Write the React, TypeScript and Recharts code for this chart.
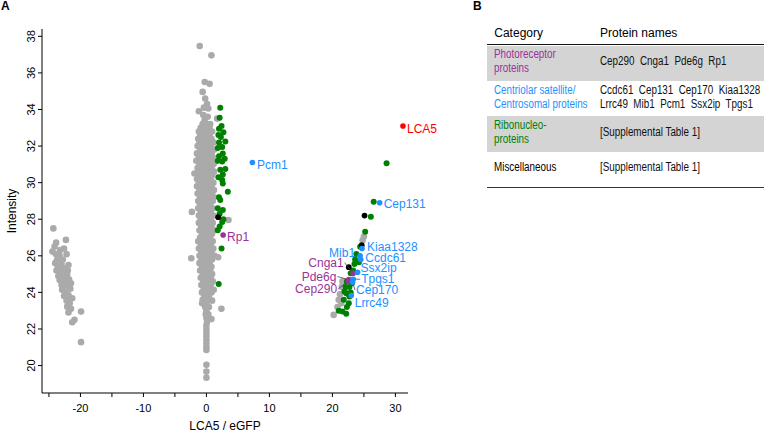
import React from 'react';
import { ScatterChart, Scatter, XAxis, YAxis } from 'recharts';

// background proteins (grey) as [LCA5/eGFP, intensity]
const greyCentral: [number, number][] = [
  [-1.06, 37.47], [0.8, 36.96], [-0.27, 35.5], [0.5, 35.4], [-0.6, 34.96], [-0.2, 34.6], [0.1, 34.3],
  [-0.4, 34.1], [0.3, 34.05], [-1.2, 33.9], [-0.5, 33.7], [0.2, 33.6], [1.7, 33.5], [-0.3, 33.4],
  [-0.6, 33.2], [0.1, 33.2], [0.6, 33.2], [-0.9, 33.0], [-0.2, 33.0], [0.5, 33.0],
  [-1.2, 32.8], [-0.5, 32.8], [0.2, 32.8], [0.9, 32.8], [-1.0, 32.6], [-0.3, 32.6], [0.5, 32.6],
  [-1.3, 32.4], [-0.6, 32.4], [0.1, 32.4], [0.8, 32.4], [-1.1, 32.2], [-0.4, 32.2], [0.4, 32.2], [1.1, 32.2],
  [-1.4, 32.0], [-0.7, 32.0], [0.0, 32.0], [0.7, 32.0], [-1.0, 31.8], [-0.3, 31.8], [0.5, 31.8], [1.2, 31.8],
  [-1.5, 31.6], [-0.8, 31.6], [0.0, 31.6], [0.8, 31.6], [-1.2, 31.4], [-0.4, 31.4], [0.3, 31.4], [1.0, 31.4],
  [-1.6, 31.2], [-0.8, 31.2], [-0.1, 31.2], [0.6, 31.2], [1.3, 31.1], [-1.1, 31.0], [-0.4, 31.0], [0.4, 31.0], [1.1, 31.0],
  [-1.4, 30.8], [-0.7, 30.8], [0.1, 30.8], [0.8, 30.8], [-1.9, 30.5], [-1.0, 30.6], [-0.3, 30.6], [0.5, 30.6], [1.2, 30.6],
  [-1.3, 30.4], [-0.6, 30.4], [0.2, 30.4], [0.9, 30.4], [-1.5, 30.2], [-0.8, 30.2], [0.0, 30.2], [0.7, 30.2],
  [-1.2, 30.0], [-0.4, 30.0], [0.4, 30.0], [1.1, 30.0], [-1.5, 29.8], [-0.7, 29.8], [0.1, 29.8], [0.8, 29.8],
  [-1.1, 29.6], [-0.3, 29.6], [0.5, 29.6], [1.2, 29.6], [-1.4, 29.4], [-0.6, 29.4], [0.2, 29.4], [0.9, 29.4],
  [-1.0, 29.2], [-0.3, 29.2], [0.5, 29.2], [1.2, 29.2], [-1.3, 29.0], [-0.5, 29.0], [0.3, 29.0], [1.0, 29.0],
  [-1.0, 28.8], [-0.2, 28.8], [0.6, 28.8], [-1.3, 28.6], [-0.5, 28.6], [0.3, 28.6], [1.0, 28.6],
  [-2.3, 28.4], [-0.9, 28.4], [-0.1, 28.4], [0.7, 28.4], [-1.2, 28.2], [-0.4, 28.2], [0.4, 28.2], [1.1, 28.2],
  [-0.9, 28.0], [-0.1, 28.0], [0.7, 28.0], [3.5, 27.96], [-1.2, 27.8], [-0.4, 27.8], [0.4, 27.8], [1.0, 27.8],
  [-0.8, 27.6], [0.0, 27.6], [0.8, 27.6], [-1.1, 27.4], [-0.3, 27.4], [0.5, 27.4], [1.2, 27.4],
  [-0.7, 27.2], [0.1, 27.2], [0.9, 27.2], [-1.0, 27.0], [-0.2, 27.0], [0.6, 27.0],
  [-1.3, 26.8], [-0.5, 26.8], [0.3, 26.8], [1.0, 26.8], [-0.9, 26.6], [-0.1, 26.6], [0.7, 26.6],
  [-1.2, 26.4], [-0.4, 26.4], [0.4, 26.4], [1.1, 26.4], [-0.8, 26.2], [0.0, 26.2], [0.8, 26.2],
  [-1.1, 26.0], [-0.3, 26.0], [0.5, 26.0], [1.3, 26.0], [1.86, 25.92], [-2.4, 25.87],
  [-0.8, 25.8], [0.1, 25.8], [0.9, 25.8], [-1.1, 25.6], [-0.3, 25.6], [0.5, 25.6],
  [-0.7, 25.4], [0.1, 25.4], [0.8, 25.4], [-1.0, 25.2], [-0.2, 25.2], [0.6, 25.2],
  [-0.6, 25.0], [0.2, 25.0], [0.9, 25.0], [-0.9, 24.8], [-0.1, 24.8], [0.7, 24.8],
  [-0.5, 24.6], [0.3, 24.6], [1.0, 24.6], [-0.8, 24.4], [0.0, 24.4], [0.7, 24.4],
  [-0.4, 24.2], [0.4, 24.2], [1.16, 24.14], [-0.7, 24.0], [0.1, 24.0], [0.8, 24.0],
  [-0.3, 23.8], [0.4, 23.8], [-0.6, 23.6], [0.2, 23.6], [0.9, 23.55], [-0.68, 23.41], [0.0, 23.4],
  [-0.2, 23.2], [0.4, 23.2], [2.38, 23.1], [0.0, 23.0], [-0.1, 22.8], [0.3, 22.8], [0.0, 22.6], [0.8, 22.54],
  [0.1, 22.4], [0.0, 22.2], [0.0, 22.0], [0.0, 21.8], [0.0, 21.6], [0.0, 21.4], [0.0, 21.2], [0.0, 21.0],
  [0.0, 20.85], [0.0, 20.04], [0.0, 19.67], [0.0, 19.34],
];

const greyLeft: [number, number][] = [
  [-24.3, 27.5], [-23.86, 26.72], [-22.3, 26.87], [-24.1, 26.5], [-22.6, 26.4], [-24.45, 26.23], [-23.2, 26.32],
  [-22.2, 26.09], [-23.9, 26.1], [-23.3, 26.0], [-23.5, 25.95], [-23.7, 25.78], [-22.8, 25.8], [-24.0, 25.6],
  [-23.0, 25.55], [-21.9, 25.5], [-23.6, 25.4], [-22.5, 25.3], [-23.8, 25.2], [-23.2, 25.2], [-22.0, 25.2],
  [-22.8, 25.0], [-22.1, 24.96], [-23.5, 24.9], [-22.7, 24.8], [-21.8, 24.7], [-23.3, 24.68], [-22.5, 24.6],
  [-21.5, 24.5], [-23.0, 24.4], [-22.2, 24.35], [-21.6, 24.2], [-22.9, 24.14], [-22.4, 24.0], [-21.9, 23.86],
  [-22.6, 23.8], [-21.3, 23.68], [-22.2, 23.55], [-21.7, 23.4], [-22.1, 23.22], [-21.5, 23.1],
  [-19.9, 22.95], [-21.9, 22.9], [-20.95, 22.5], [-21.3, 22.37], [-19.9, 21.28],
];

const greyRight: [number, number][] = [
  [25.0, 27.05], [24.8, 26.85], [21.6, 24.6], [21.5, 24.3], [21.2, 23.9], [21.0, 23.6], [21.4, 23.4],
  [20.8, 23.2], [20.2, 22.77],
];

// ribonucleoproteins (green)
const greenPoints: [number, number][] = [
  [2.2, 34.1], [2.1, 33.55], [2.4, 33.1], [2.0, 32.95], [2.7, 32.75], [1.9, 32.6], [2.3, 32.5], [3.0, 32.25],
  [2.0, 32.2], [2.5, 31.95], [1.8, 31.9], [2.6, 31.6], [2.0, 31.45], [2.9, 31.3], [1.8, 31.2], [2.5, 31.15],
  [3.0, 30.75], [2.2, 30.7], [2.6, 30.45], [1.9, 30.3], [2.5, 30.15], [2.6, 29.95], [3.4, 29.5], [2.0, 29.2],
  [2.2, 29.05], [1.8, 28.6], [2.6, 28.5], [2.1, 28.3], [2.7, 28.0], [2.5, 27.85], [2.1, 27.6], [1.8, 27.4],
  [2.4, 26.4], [1.95, 24.46],
  [28.6, 31.06], [26.55, 28.96], [26.1, 28.14], [25.2, 27.32], [24.4, 26.5], [23.8, 26.1], [23.6, 25.8],
  [24.2, 25.65], [23.5, 25.55], [23.3, 25.2], [22.9, 25.05], [23.1, 24.5], [22.3, 24.6], [22.1, 24.3],
  [22.7, 24.3], [21.9, 24.05], [22.9, 24.0], [22.2, 23.96], [22.7, 23.77], [21.8, 23.6], [22.6, 23.4],
  [22.3, 23.2], [21.0, 23.0], [21.6, 22.95], [22.2, 22.83],
];

// miscellaneous (black)
const blackPoints: [number, number][] = [
  [1.86, 28.11], [25.1, 28.2], [24.65, 26.58], [22.6, 25.38],
];

const photoreceptor = [
  { name: 'Cep290', x: 22.5, y: 24.62 },
  { name: 'Pde6g', x: 22.6, y: 24.7 },
  { name: 'Cnga1', x: 23.3, y: 25.05 },
  { name: 'Rp1', x: 2.65, y: 27.14 },
];

const centrosomal = [
  { name: 'Pcm1', x: 7.3, y: 31.1 },
  { name: 'Cep131', x: 27.5, y: 28.9 },
  { name: 'Kiaa1328', x: 24.7, y: 26.4 },
  { name: 'Mib1', x: 24.4, y: 26.0 },
  { name: 'Ccdc61', x: 24.5, y: 25.8 },
  { name: 'Ssx2ip', x: 24.0, y: 25.1 },
  { name: 'Tpgs1', x: 23.3, y: 24.72 },
  { name: 'Cep170', x: 23.2, y: 24.55 },
  { name: 'Lrrc49', x: 23.0, y: 23.83 },
];

const bait = [{ name: 'LCA5', x: 31.2, y: 33.1 }];

const xTicks = [-25, -20, -15, -10, -5, 0, 5, 10, 15, 20, 25, 30];
const yTicks = [20, 22, 24, 26, 28, 30, 32, 34, 36, 38];

const tableHeader = ['Category', 'Protein names'];
const tableCategories = [
  'Photoreceptor\nproteins',
  'Centriolar satellite/\nCentrosomal proteins',
  'Ribonucleo-\nproteins',
  'Miscellaneous',
];
const tableProteins = [
  'Cep290  Cnga1  Pde6g  Rp1',
  'Ccdc61  Cep131  Cep170  Kiaa1328\nLrrc49  Mib1  Pcm1  Ssx2ip  Tpgs1',
  '[Supplemental Table 1]',
  '[Supplemental Table 1]',
];

const PURPLE = '#993399';
const BLUE = '#1e90ff';
const GREEN = '#008000';
const GREY = '#aaaaaa';
const RED = '#ff0000';
const categoryColors = [PURPLE, BLUE, GREEN, '#000'];

const FONT = '"Liberation Sans", Arial, sans-serif';

// where each label sits relative to its dot (px)
const labelPlacement: Record<string, { dx: number; dy: number; anchor: 'start' | 'end'; leader?: boolean }> = {
  LCA5: { dx: 4, dy: 3, anchor: 'start' },
  Pcm1: { dx: 4.5, dy: 2, anchor: 'start' },
  Cep131: { dx: 4, dy: 1.5, anchor: 'start' },
  Rp1: { dx: 4, dy: 2.5, anchor: 'start' },
  Kiaa1328: { dx: 5, dy: -1, anchor: 'start' },
  Mib1: { dx: -5, dy: -3, anchor: 'end', leader: true },
  Ccdc61: { dx: 4.6, dy: -1.2, anchor: 'start' },
  Cnga1: { dx: -9.5, dy: -10.5, anchor: 'end', leader: true },
  Ssx2ip: { dx: 3, dy: -4.7, anchor: 'start' },
  Pde6g: { dx: -12.4, dy: -3, anchor: 'end', leader: true },
  Tpgs1: { dx: 8, dy: 0, anchor: 'start', leader: true },
  Cep290: { dx: -11, dy: 8, anchor: 'end', leader: true },
  Cep170: { dx: 3.5, dy: 7.7, anchor: 'start', leader: true },
  Lrrc49: { dx: 3.4, dy: 7.7, anchor: 'start' },
};

const toPts = (arr: [number, number][]) => arr.map(([x, y]) => ({ x, y }));

const dot = (color: string, r: number) => (props: any) => (
  <circle cx={props.cx} cy={props.cy} r={r} fill={color} />
);

const labeledDot = (color: string) => (props: any) => {
  const { cx, cy, payload } = props;
  const p = labelPlacement[payload.name] || { dx: 4, dy: 0, anchor: 'start' };
  const tx = cx + p.dx;
  const ty = cy + p.dy;
  return (
    <g>
      {p.leader && (
        <line
          x1={p.anchor === 'end' ? tx + 1 : tx - 1}
          y1={ty}
          x2={cx}
          y2={cy}
          stroke="#333"
          strokeWidth={0.7}
        />
      )}
      <circle cx={cx} cy={cy} r={2.8} fill={color} />
      <text
        x={tx}
        y={ty}
        textAnchor={p.anchor}
        dominantBaseline="central"
        fill={color}
        fontSize={12}
        fontFamily={FONT}
      >
        {payload.name}
      </text>
    </g>
  );
};

const YTick = (props: any) => {
  const { x, y, payload } = props;
  return (
    <g transform={`translate(${x - 5},${y}) rotate(-90)`}>
      <text textAnchor="middle" dominantBaseline="central" fontSize={11} fontFamily={FONT} fill="#000">
        {payload.value}
      </text>
    </g>
  );
};

// table cell text is set in a condensed face in the figure
const Narrow = ({ children, color }: { children: React.ReactNode; color: string }) => (
  <span style={{ display: 'inline-block', whiteSpace: 'pre', color, transform: 'scaleX(0.82)', transformOrigin: 'left center' }}>
    {children}
  </span>
);

export default function App() {
  const rowTop = 45.5;
  const rowH = 35.4;
  return (
    <div style={{ position: 'absolute', left: 0, top: 0, width: 764, height: 432, background: '#fff', fontFamily: FONT }}>
      <div style={{ position: 'absolute', left: 1, top: -1, fontSize: 12, fontWeight: 'bold' }}>A</div>
      <div style={{ position: 'absolute', left: 473, top: -1, fontSize: 12, fontWeight: 'bold' }}>B</div>

      <div style={{ position: 'absolute', left: 0, top: 0 }}>
        <ScatterChart width={460} height={432} margin={{ top: 29, right: 52, bottom: 0, left: 12 }} style={{ overflow: 'visible' }}>
          <XAxis
            type="number"
            dataKey="x"
            domain={[-26.1, 32]}
            ticks={xTicks}
            tickFormatter={(v: number) => (v % 10 === 0 ? String(v) : '')}
            tick={{ fontSize: 11, fontFamily: FONT, fill: '#000' }}
            tickSize={4}
            tickMargin={7}
            stroke="#000"
            height={39}
            label={{ value: 'LCA5 / eGFP', position: 'insideBottom', offset: 2, fontSize: 12, fontFamily: FONT, fill: '#000' }}
          />
          <YAxis
            type="number"
            dataKey="y"
            domain={[18.5, 38.4]}
            ticks={yTicks}
            tick={<YTick />}
            tickSize={4}
            stroke="#000"
            width={30}
            label={{ value: 'Intensity', angle: -90, position: 'insideLeft', offset: 0, fontSize: 12, fontFamily: FONT, fill: '#000', style: { textAnchor: 'middle' } }}
          />
          <Scatter data={toPts(greyCentral)} shape={dot(GREY, 3.3)} isAnimationActive={false} />
          <Scatter data={toPts(greyLeft)} shape={dot(GREY, 3.3)} isAnimationActive={false} />
          <Scatter data={toPts(greyRight)} shape={dot(GREY, 3.3)} isAnimationActive={false} />
          <Scatter data={toPts(greenPoints)} shape={dot(GREEN, 3)} isAnimationActive={false} />
          <Scatter data={toPts(blackPoints)} shape={dot('#000', 2.9)} isAnimationActive={false} />
          <Scatter data={photoreceptor} shape={labeledDot(PURPLE)} isAnimationActive={false} />
          <Scatter data={centrosomal} shape={labeledDot(BLUE)} isAnimationActive={false} />
          <Scatter data={bait} shape={labeledDot(RED)} isAnimationActive={false} />
        </ScatterChart>
      </div>

      <div style={{ position: 'absolute', left: 486.7, top: 0, width: 277.3, height: 200 }}>
        <div style={{ position: 'absolute', left: 7.6, top: 26, fontSize: 12 }}>{tableHeader[0]}</div>
        <div style={{ position: 'absolute', left: 113.3, top: 26, fontSize: 12 }}>{tableHeader[1]}</div>
        <div style={{ position: 'absolute', left: 0, right: 0, top: 43.5, height: 1.6, background: '#111' }} />
        {tableCategories.map((cat, i) => (
          <div
            key={cat}
            style={{
              position: 'absolute',
              left: 0,
              right: 0,
              top: rowTop + i * rowH,
              height: rowH,
              background: i % 2 === 0 ? '#d4d4d4' : '#fff',
              fontSize: 12,
              lineHeight: '13.8px',
            }}
          >
            <div style={{ position: 'absolute', left: 7.6, top: 0, bottom: 2, width: 110, display: 'flex', alignItems: 'center' }}>
              <Narrow color={categoryColors[i]}>{cat}</Narrow>
            </div>
            <div style={{ position: 'absolute', left: 113.3, top: 0, bottom: 2, width: 170, display: 'flex', alignItems: 'center' }}>
              <Narrow color="#111">{tableProteins[i]}</Narrow>
            </div>
          </div>
        ))}
        <div style={{ position: 'absolute', left: 0, right: 0, top: 186.6, height: 1.2, background: '#333' }} />
      </div>
    </div>
  );
}
